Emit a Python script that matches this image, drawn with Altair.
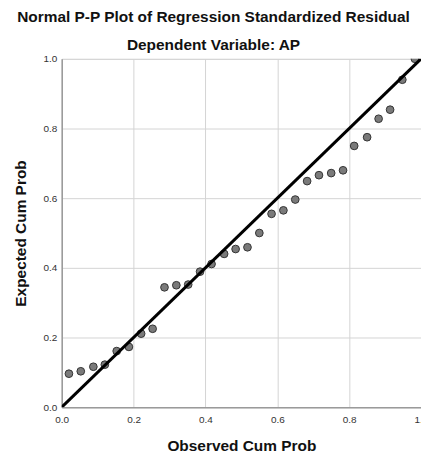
import altair as alt
import pandas as pd

# Observed cumulative probability (x) and expected cumulative probability (y)
observed = [0.020, 0.053, 0.088, 0.120, 0.153, 0.187, 0.221, 0.253, 0.286, 0.319,
            0.352, 0.385, 0.417, 0.452, 0.484, 0.517, 0.550, 0.584, 0.617, 0.650,
            0.683, 0.716, 0.750, 0.783, 0.814, 0.850, 0.882, 0.914, 0.948, 0.983]
expected = [0.096, 0.103, 0.116, 0.122, 0.161, 0.173, 0.211, 0.225, 0.344, 0.350,
            0.352, 0.389, 0.411, 0.440, 0.454, 0.459, 0.500, 0.555, 0.565, 0.596,
            0.649, 0.666, 0.672, 0.680, 0.750, 0.775, 0.828, 0.854, 0.940, 1.000]

# Reference diagonal
line_x = [0.0, 1.0]
line_y = [0.0, 1.0]

tick_values = [0.0, 0.2, 0.4, 0.6, 0.8, 1.0]

FONT = "Liberation Sans"

pts = pd.DataFrame({"obs": observed, "exp": expected})
diag = pd.DataFrame({"obs": line_x, "exp": line_y})

xscale = alt.Scale(domain=[0, 1], nice=False, zero=False)
yscale = alt.Scale(domain=[0, 1], nice=False, zero=False)

xaxis = alt.Axis(values=tick_values, format=".1f", title="Observed Cum Prob",
                 grid=True, gridColor="#d4d4d4", gridWidth=1,
                 domainColor="#9a9a9a", domainWidth=1.5, ticks=False,
                 labelFont=FONT, labelFontSize=10, labelColor="#333333",
                 labelPadding=7, labelFlush=False,
                 titleFont=FONT, titleFontSize=15.5, titleFontWeight="bold",
                 titleColor="#111111", titlePadding=15)
yaxis = alt.Axis(values=tick_values, format=".1f", title="Expected Cum Prob",
                 grid=True, gridColor="#d4d4d4", gridWidth=1,
                 domainColor="#9a9a9a", domainWidth=1.5, ticks=False,
                 labelFont=FONT, labelFontSize=10, labelColor="#333333",
                 labelPadding=5, labelFlush=False,
                 titleFont=FONT, titleFontSize=15.5, titleFontWeight="bold",
                 titleColor="#111111", titlePadding=15)

points = alt.Chart(pts).mark_circle(
    size=60, color="#7a7a7a", stroke="#333333", strokeWidth=1, opacity=1, clip=True
).encode(
    x=alt.X("obs:Q", scale=xscale, axis=xaxis),
    y=alt.Y("exp:Q", scale=yscale, axis=yaxis),
)

line = alt.Chart(diag).mark_line(color="#000000", strokeWidth=3, clip=True).encode(
    x=alt.X("obs:Q", scale=xscale),
    y=alt.Y("exp:Q", scale=yscale),
)

chart = alt.layer(points, line).properties(
    width=361,
    height=350,
    title=alt.TitleParams(
        text="Normal P-P Plot of Regression Standardized Residual",
        subtitle="Dependent Variable: AP",
        font=FONT, fontSize=15.5, fontWeight="bold", color="#111111",
        subtitleFont=FONT, subtitleFontSize=15.5, subtitleFontWeight="bold",
        subtitleColor="#111111", subtitlePadding=13,
        anchor="middle", frame="group", dx=-28, offset=0,
    ),
    autosize=alt.AutoSizeParams(type="none"),
    padding={"left": 54, "top": 50, "right": 0, "bottom": 50},
).configure_view(stroke=None).configure(background="white")

chart.save("out.html", embed_options={"renderer": "svg", "actions": False})
